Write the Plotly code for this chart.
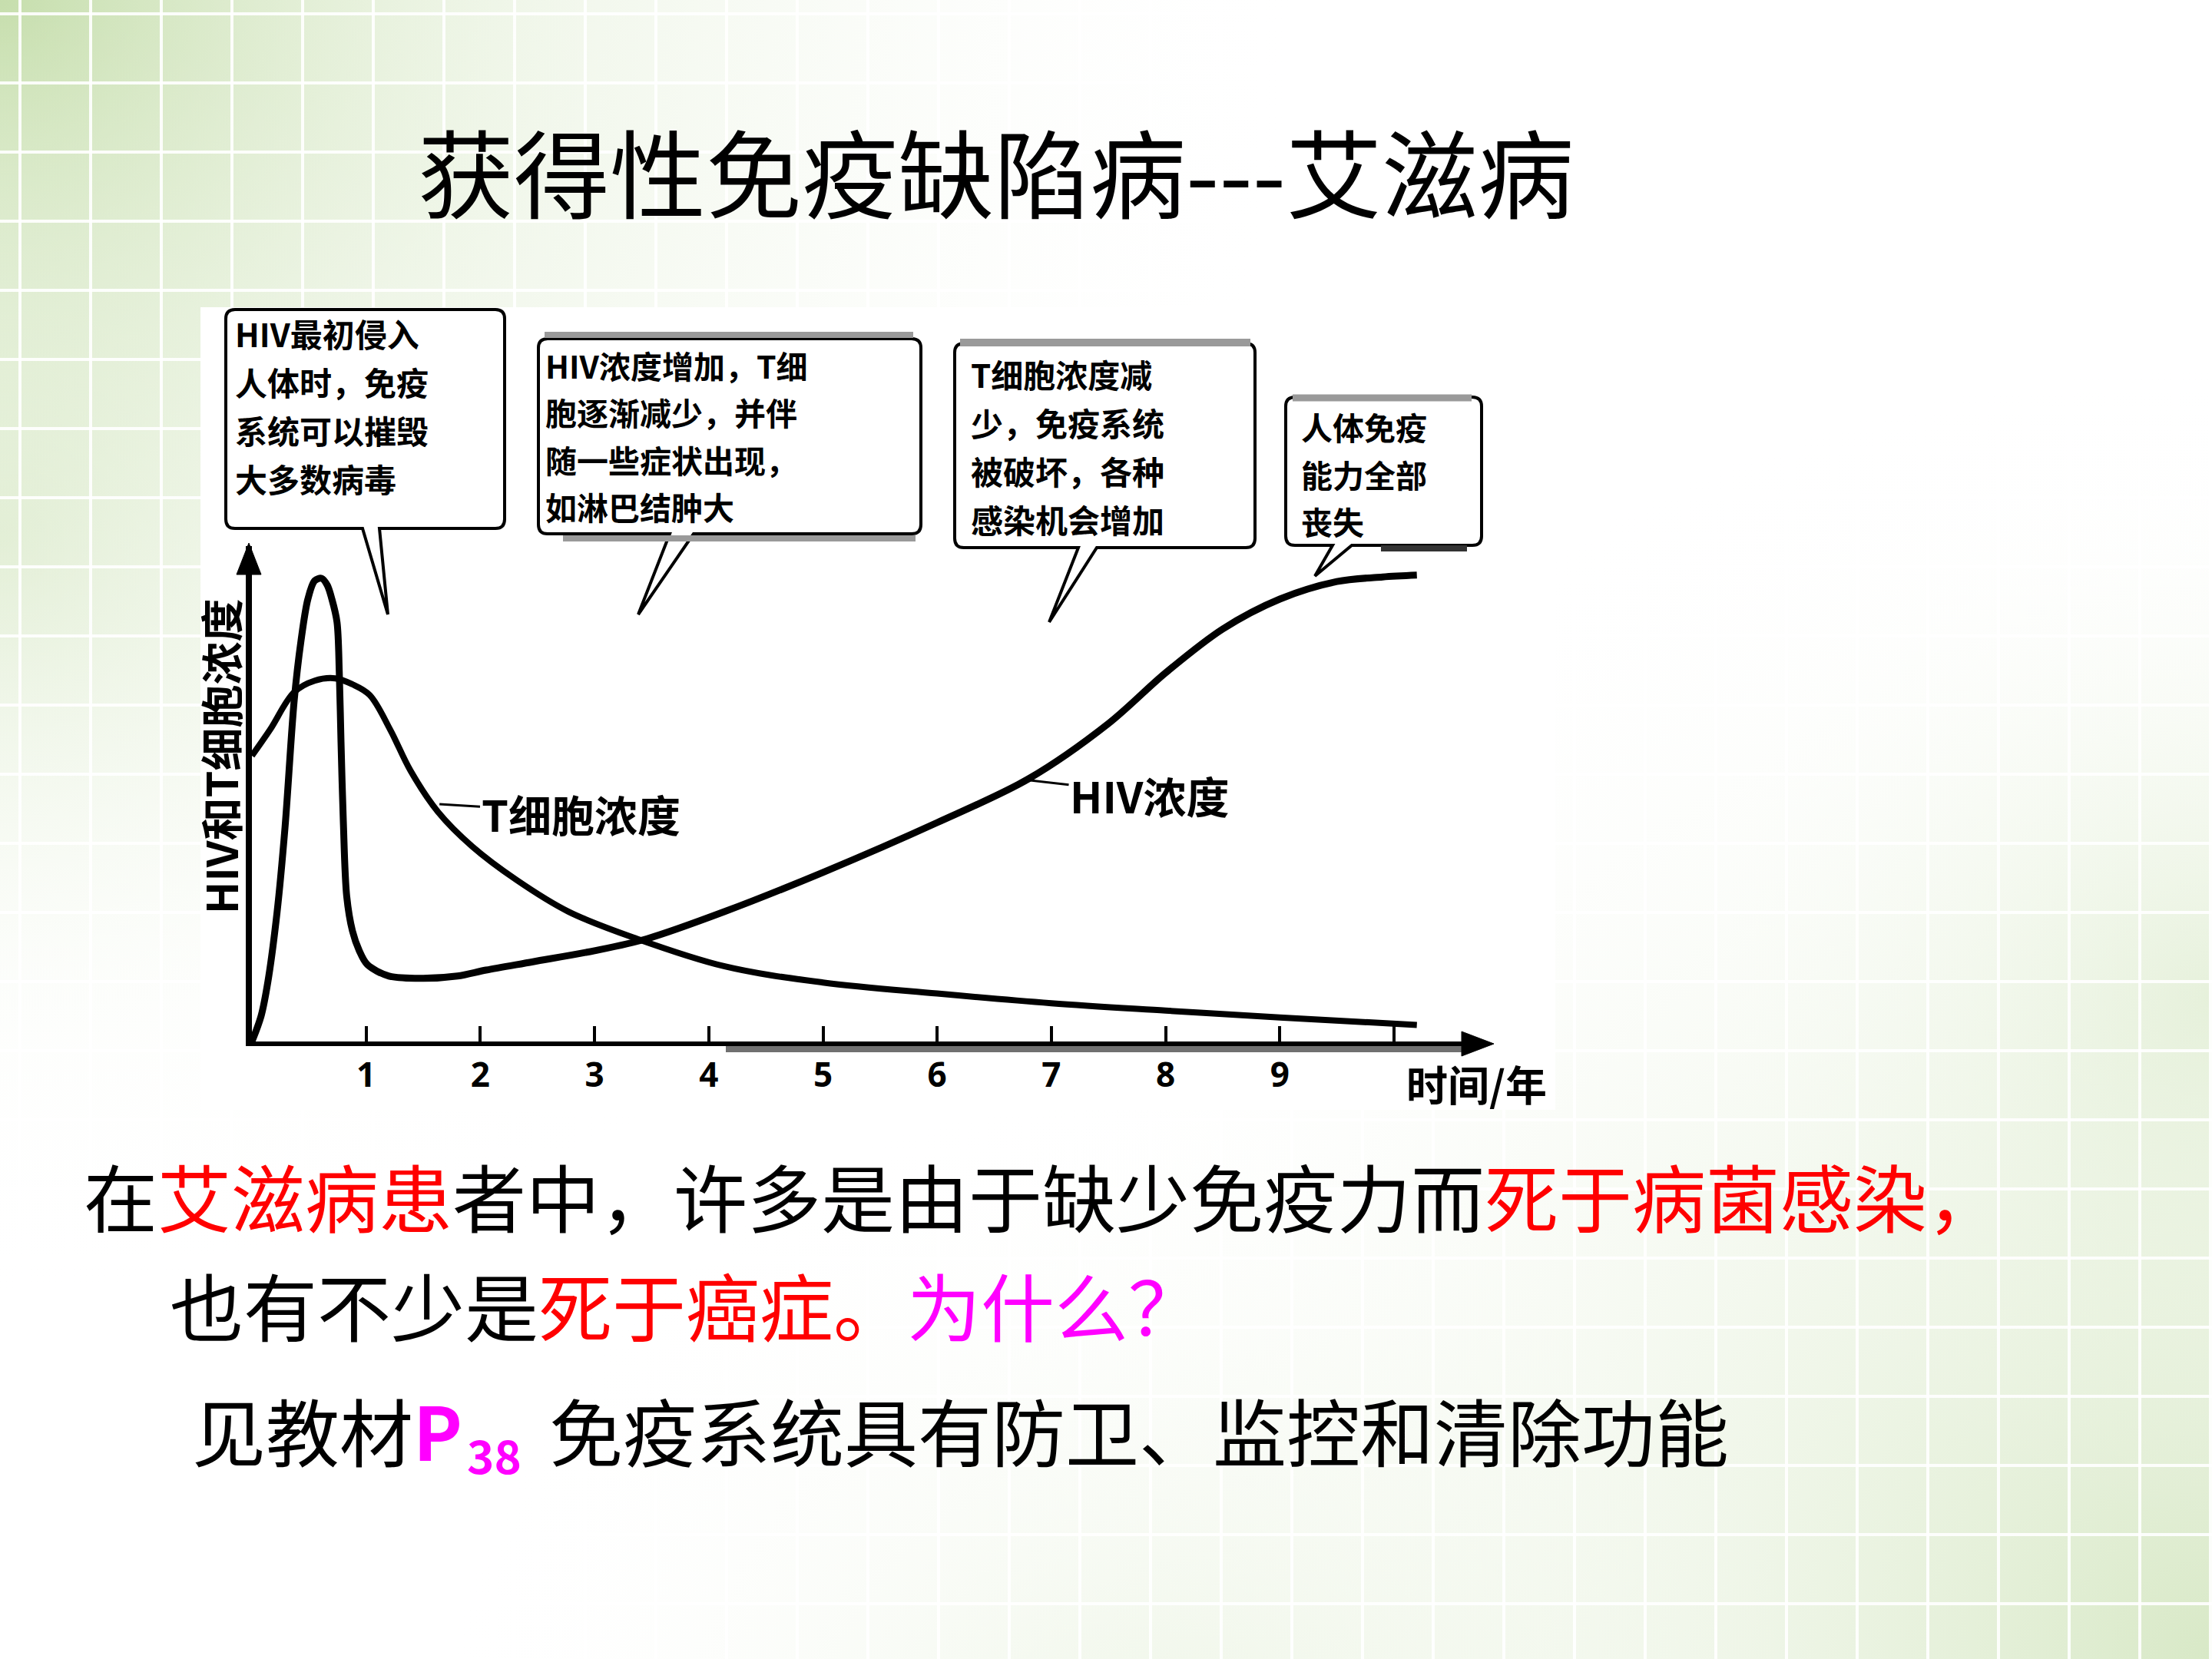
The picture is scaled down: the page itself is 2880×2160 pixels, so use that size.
import plotly.graph_objects as go

W, H = 2880, 2160
CJK = "Noto Sans CJK SC"

# ---------------- data ----------------
hiv_years = [0, 0.08, 0.14, 0.22, 0.29, 0.37, 0.43, 0.49, 0.55, 0.61, 0.66, 0.70, 0.745,
             0.765, 0.78, 0.80, 0.83, 0.88, 0.94, 1.01, 1.2, 1.5, 1.8, 2.05, 2.46, 3.0,
             3.46, 4.14, 5.0, 6.0, 6.8, 7.5, 8.0, 8.5, 9.0, 9.5, 9.9, 10.2]
hiv_conc = [0, 5.5, 13, 28, 46.5, 74, 87, 96, 100, 100.5, 99, 96, 91,
            80, 65, 48, 31.5, 24, 19.7, 16.7, 14.2, 13.7, 14.2, 15.5, 17.3, 19.7,
            22.3, 28.2, 36.7, 47.5, 57, 69, 80, 89.5, 96, 99.8, 100.8, 101.2]

tcell_years = [0, 0.16, 0.37, 0.55, 0.73, 0.88, 1.03, 1.21, 1.39, 1.63, 1.93, 2.32, 2.77,
               3.37, 4.14, 5.0, 6.0, 7.0, 8.0, 9.0, 10.2]
tcell_conc = [62, 67.7, 75.8, 78.3, 78.8, 77.5, 75.2, 67.7, 58.7, 49.8, 42.3, 35, 28.2,
              22.3, 16.3, 12.8, 10.4, 8.3, 6.7, 5.2, 3.6]

x_tick_vals = [1, 2, 3, 4, 5, 6, 7, 8, 9]
x_tick_text = ["1", "2", "3", "4", "5", "6", "7", "8", "9"]
x_last_tick = 10

title_text = "获得性免疫缺陷病---艾滋病"
y_axis_label = "HIV和T细胞浓度"
x_axis_label = "时间/年"
tcell_label = "T细胞浓度"
hiv_label = "HIV浓度"

callout_1 = ["HIV最初侵入", "人体时，免疫", "系统可以摧毁", "大多数病毒"]
callout_2 = ["HIV浓度增加，T细", "胞逐渐减少，并伴", "随一些症状出现，", "如淋巴结肿大"]
callout_3 = ["T细胞浓度减", "少，免疫系统", "被破坏，各种", "感染机会增加"]
callout_4 = ["人体免疫", "能力全部", "丧失"]

RED = "#FF0000"
MAG = "#FF00FF"
line_1 = ("在<span style='color:%s'>艾滋病患</span>者中，许多是由于缺少免疫力而"
          "<span style='color:%s'>死于病菌感染，</span>" % (RED, RED))
line_2 = ("也有不少是<span style='color:%s'>死于癌症。</span>"
          "<span style='color:%s'>为什么？</span>" % (RED, MAG))
line_3a = "见教材<span style='color:%s'><b>P</b></span>" % MAG
line_3_page = "38"
line_3b = "免疫系统具有防卫、监控和清除功能"

# ---------------- geometry helpers (pixel layout) ----------------
X0_PX, UNIT_X = 328, 148.7       # x=0 position and px per year
Y0_PX, UNIT_Y = 1356, 6.0        # y=0 position and px per unit
X_MAX, Y_MAX = 10.8, 107.5


def px(x):
    return x / W


def py(y):
    return 1 - y / H


fig = go.Figure()

# ---------------- slide background (pixel subplot x/y) ----------------
def glow(cx, cy, size, alpha):
    fig.add_trace(go.Scatter(
        x=[cx], y=[cy], mode="markers", hoverinfo="skip",
        marker=dict(size=size, color="rgba(255,255,255,0)", line=dict(width=0),
                    gradient=dict(type="radial", color="rgba(184,214,152,%.2f)" % alpha))))


glow(0, 0, 3400, 0.58)      # top-left
glow(0, 0, 1700, 0.52)
glow(0, 700, 1400, 0.25)
glow(W, H, 3400, 0.55)      # bottom-right
glow(W, 1300, 1400, 0.25)
glow(1500, 2350, 1900, 0.25)

# white grid of the slide template
gx, gy = [], []
k = 26
while k < W:
    gx += [k, k, None]
    gy += [0, H, None]
    k += 92
k = 18
while k < H:
    gx += [0, W, None]
    gy += [k, k, None]
    k += 90
fig.add_trace(go.Scatter(x=gx, y=gy, mode="lines", hoverinfo="skip",
                         line=dict(color="rgba(255,255,255,0.9)", width=4)))

# white panel of the chart picture
fig.add_trace(go.Scatter(x=[261, 2025, 2025, 261, 261], y=[400, 400, 1445, 1445, 400],
                         mode="lines", fill="toself", fillcolor="white", hoverinfo="skip",
                         line=dict(width=0, color="white")))

# ---------------- the chart (x2/y2) ----------------
fig.add_trace(go.Scatter(x=hiv_years, y=hiv_conc, xaxis="x2", yaxis="y2", mode="lines",
                         line=dict(color="black", width=9, shape="spline", smoothing=0.9),
                         name="HIV浓度"))
fig.add_trace(go.Scatter(x=tcell_years, y=tcell_conc, xaxis="x2", yaxis="y2", mode="lines",
                         line=dict(color="black", width=8, shape="spline", smoothing=1.0),
                         name="T细胞浓度"))

shapes = []


def bubble(x0, y0, x1, y1, tl, tr, tipx, tipy, r=12):
    return (f"M{x0+r},{y0} L{x1-r},{y0} Q{x1},{y0} {x1},{y0+r} L{x1},{y1-r} "
            f"Q{x1},{y1} {x1-r},{y1} L{tr},{y1} L{tipx},{tipy} L{tl},{y1} "
            f"L{x0+r},{y1} Q{x0},{y1} {x0},{y1-r} L{x0},{y0+r} Q{x0},{y0} {x0+r},{y0} Z")


boxes = [
    (294, 403, 657, 688, 472, 494, 505, 800),
    (701, 441, 1199, 695, 872, 903, 831, 800),
    (1243, 447, 1634, 713, 1404, 1428, 1366, 810),
    (1674, 517, 1929, 710, 1735, 1760, 1712, 750),
]
for b in boxes:
    shapes.append(dict(type="path", path=bubble(*b), xref="x", yref="y", layer="above",
                       fillcolor="white", line=dict(color="black", width=4)))

# scan-shadow bars on the callouts and the axis
gray_bars = [
    (709, 436, 1189, 436, 8, "#9a9a9a"),
    (733, 701, 1192, 701, 8, "#9a9a9a"),
    (1250, 446, 1628, 446, 10, "#9a9a9a"),
    (1683, 518, 1916, 518, 9, "#9a9a9a"),
    (1798, 714, 1910, 714, 8, "#333333"),
    (945, 1366, 1905, 1366, 8, "#707070"),
]
for x0, y0, x1, y1, w, c in gray_bars:
    shapes.append(dict(type="line", x0=x0, y0=y0, x1=x1, y1=y1, xref="x", yref="y",
                       layer="above", line=dict(color=c, width=w)))

# unlabeled last tick on the time axis
shapes.append(dict(type="line", xref="x2", yref="y2", layer="above",
                   x0=x_last_tick, x1=x_last_tick, y0=0, y1=20 / UNIT_Y,
                   line=dict(color="black", width=4)))

# arrow heads of the two axes
shapes.append(dict(type="path", xref="x", yref="y", layer="above", fillcolor="black",
                   line=dict(color="black", width=1),
                   path="M324,707 L340,748 L308,748 Z"))
shapes.append(dict(type="path", xref="x", yref="y", layer="above", fillcolor="black",
                   line=dict(color="black", width=1),
                   path="M1945,1359 L1903,1343 L1903,1375 Z"))

annotations = []


def ann(text, x, y, size, color="black", xanchor="left", weight="normal", angle=0):
    annotations.append(dict(text=text, x=px(x), y=py(y), xref="paper", yref="paper",
                            xanchor=xanchor, yanchor="middle", showarrow=False, textangle=angle,
                            align="left",
                            font=dict(family=CJK, size=size, color=color, weight=weight)))


# title
ann(title_text, 1296, 220, 125, xanchor="center")

# callout texts: one text per line, spaced so that lines do not collide
for lines, x, yc, size, pitch in [
    (callout_1, 304, 528, 42, 63),
    (callout_2, 708, 567, 41, 61.5),
    (callout_3, 1262, 581, 42, 63),
    (callout_4, 1692, 617, 41, 61.5),
]:
    n = len(lines)
    for i, t in enumerate(lines):
        ann(t, x, yc + (i - (n - 1) / 2) * pitch, size, weight="bold")

# axis labels
ann(y_axis_label, 285, 985, 56, xanchor="center", weight="bold", angle=-90)
ann(x_axis_label, 1922, 1410, 54, xanchor="center", weight="bold")

# curve labels with leader lines
for text, xv, yv, cx, cy in [
    (tcell_label, 1.642, 51.5, 756, 1058),
    (hiv_label, 6.80, 56.7, 1497, 1034),
]:
    tx = X0_PX + xv * UNIT_X
    ty = Y0_PX - yv * UNIT_Y
    annotations.append(dict(text=text, x=xv, y=yv, xref="x2", yref="y2", showarrow=True,
                            arrowhead=0, arrowwidth=3, arrowcolor="black",
                            ax=cx - tx, ay=cy - ty,
                            font=dict(family=CJK, size=56, color="black", weight="bold")))

# bottom sentences
ann(line_1, 107, 1555, 96)
ann(line_2, 219, 1697, 96)
ann(line_3a, 248, 1860, 96)
ann(line_3_page, 606, 1892, 60, color=MAG, weight="bold")
ann(line_3b, 713, 1860, 96)

fig.update_layout(
    width=W, height=H, autosize=False,
    margin=dict(l=0, r=0, t=0, b=0, pad=0),
    paper_bgcolor="white", plot_bgcolor="rgba(0,0,0,0)",
    showlegend=False,
    xaxis=dict(domain=[0, 1], range=[0, W], visible=False, fixedrange=True),
    yaxis=dict(domain=[0, 1], range=[H, 0], visible=False, fixedrange=True),
    xaxis2=dict(domain=[px(X0_PX), px(X0_PX + X_MAX * UNIT_X)], range=[0, X_MAX],
                anchor="y2", showline=True, linewidth=6, linecolor="black",
                ticks="inside", ticklen=20, tickwidth=4, tickcolor="black",
                tickvals=x_tick_vals, ticktext=x_tick_text,
                tickfont=dict(family="Noto Sans", size=44, color="black", weight="bold"),
                showgrid=False, zeroline=False, fixedrange=True),
    yaxis2=dict(domain=[py(Y0_PX), py(Y0_PX - Y_MAX * UNIT_Y)], range=[0, Y_MAX],
                anchor="x2", showline=True, linewidth=8, linecolor="black",
                showticklabels=False, ticks="", showgrid=False, zeroline=False,
                fixedrange=True),
    shapes=shapes,
    annotations=annotations,
)

fig.write_html("out.html", config={"displayModeBar": False},
               post_script="document.body.style.margin='0px';")
